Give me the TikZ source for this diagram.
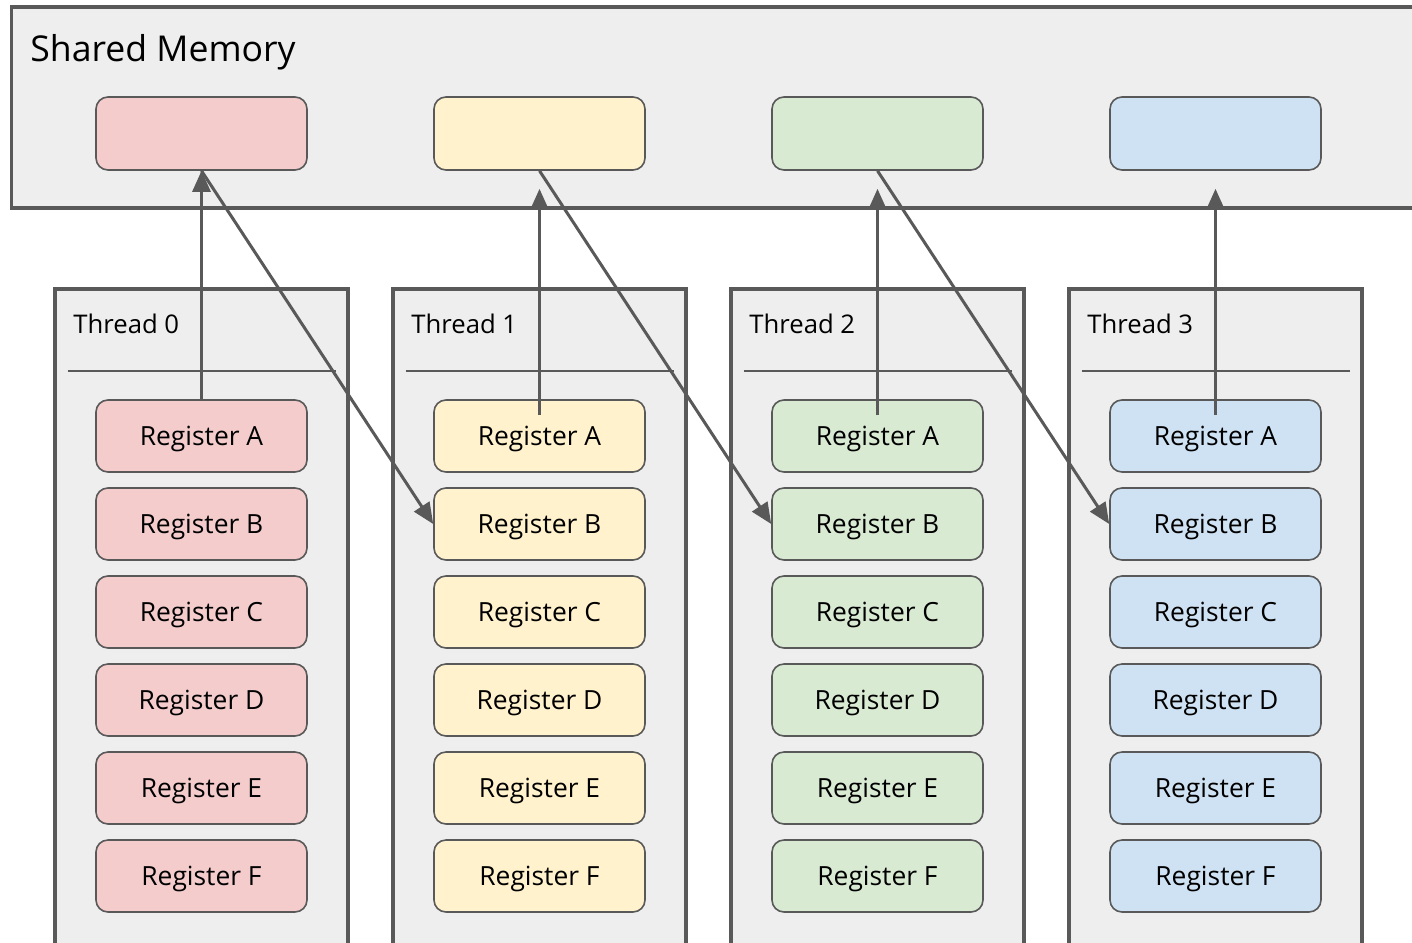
\documentclass[tikz,border=0pt]{standalone}
\usepackage{fontspec}
\setmainfont{Open Sans}
\usetikzlibrary{arrows.meta}
\definecolor{edge}{HTML}{595959}
\definecolor{boxbg}{HTML}{EEEEEE}
\definecolor{cred}{HTML}{F4CCCC}
\definecolor{cyel}{HTML}{FFF2CC}
\definecolor{cgrn}{HTML}{D9EAD3}
\definecolor{cblu}{HTML}{CFE2F3}
\tikzset{
  outerbox/.style={draw=edge, fill=boxbg, line width=1.6pt, inner sep=0pt},
  cellbox/.style={draw=edge, line width=0.8pt, rounded corners=6pt, minimum width=105.5pt, minimum height=36pt, inner sep=0pt, text depth=0pt, font=\fontsize{13.2}{15}\selectfont, text=black},
  seprule/.style={draw=edge, line width=0.7pt},
  arr/.style={draw=edge, line width=1.5pt, -{Triangle[length=10.5pt,width=9pt]}},
  lbl/.style={anchor=west, inner sep=0pt, text depth=0pt, text=black}
}
\begin{document}
\begin{tikzpicture}[x=0.5pt,y=-0.5pt]
\useasboundingbox (0,0) rectangle (1412,942);
\clip (0,0) rectangle (1412,942);
% shared memory
\node[outerbox, minimum width=706pt, minimum height=100.5pt] (sm) at (717.5,107.5) {};
\node[lbl, font=\fontsize{17.8}{20}\selectfont] (smlbl) at (30,48) {Shared Memory};
\foreach \i/\c in {0/cred,1/cyel,2/cgrn,3/cblu}{
  \pgfmathsetmacro{\cx}{201.5+338*\i}
  \node[cellbox, fill=\c, minimum height=36.5pt] (c\i) at (\cx,133.5) {};
}
% threads
\foreach \i/\c in {0/cred,1/cyel,2/cgrn,3/cblu}{
  \pgfmathsetmacro{\cx}{201.5+338*\i}
  \node[outerbox, minimum width=146.5pt, minimum height=340pt] (t\i) at (\cx,629) {};
  \node[lbl, font=\fontsize{12.85}{15}\selectfont] (tl\i) at (\cx-128.5,323.5) {Thread \i};
  \coordinate (sl\i) at (\cx-134,371);
  \coordinate (sr\i) at (\cx+134,371);
  \draw[seprule] (sl\i) -- (sr\i);
  \foreach \r/\y in {A/436,B/524,C/612,D/700,E/788,F/876}{
    \node[cellbox, fill=\c] (r\i\r) at (\cx,\y) {Register \r};
  }
}
% arrows
\draw[arr] (r0A.north) -- (c0.south);
\foreach \i in {1,2,3}{
  \coordinate (s\i) at ([yshift=-8pt]r\i A.north);
  \coordinate (e\i) at ([yshift=-9pt]c\i.south);
  \draw[arr] (s\i) -- (e\i);
}
\draw[arr] (c0.south) -- (r1B.west);
\draw[arr] (c1.south) -- (r2B.west);
\draw[arr] (c2.south) -- (r3B.west);
\end{tikzpicture}
\end{document}
